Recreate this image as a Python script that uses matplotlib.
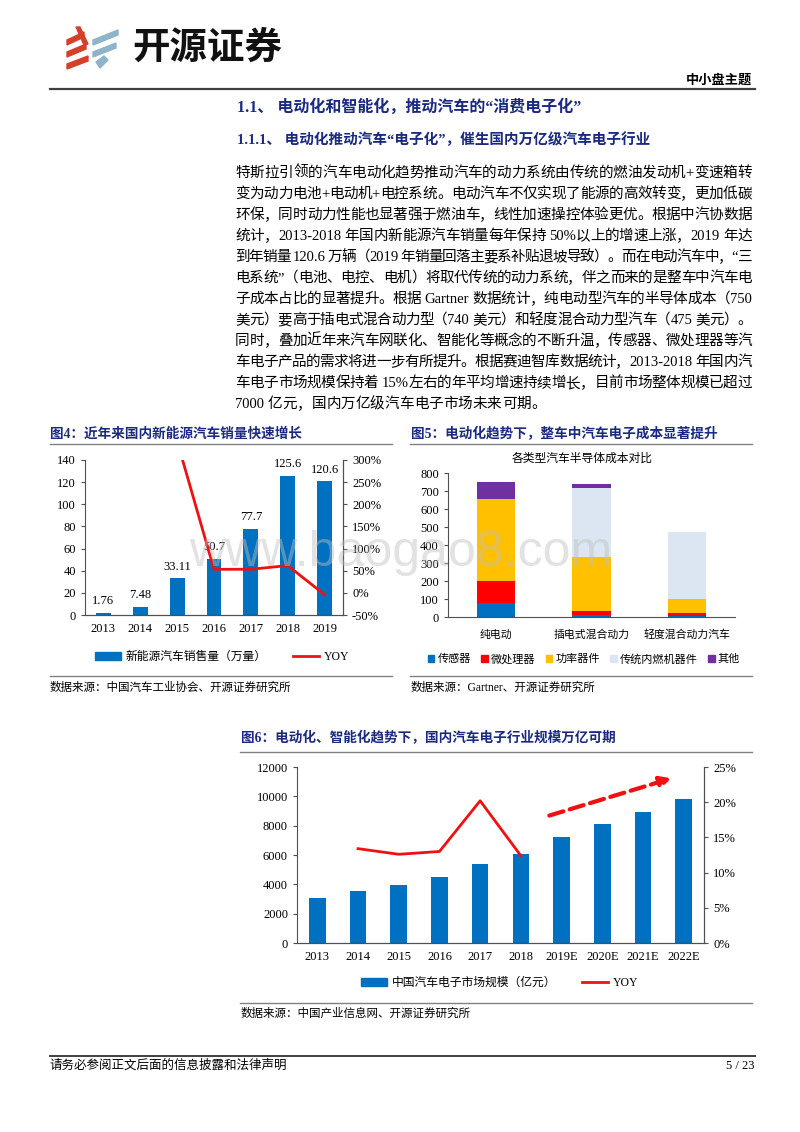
import re
import numpy as np
import matplotlib
matplotlib.use('Agg')
import matplotlib.pyplot as plt
from matplotlib.patches import Patch, Polygon
from matplotlib.lines import Line2D
from matplotlib.ticker import FuncFormatter

FAM = ['Liberation Serif', 'Noto Sans CJK SC']
NAVY = '#1B2A80'
BLUE = '#0070C0'
RED = '#EE1111'
SPINE = '#505050'

# ---- data ----
years4 = ['2013', '2014', '2015', '2016', '2017', '2018', '2019']
nev_sales = [1.76, 7.48, 33.11, 50.7, 77.7, 125.6, 120.6]
nev_yoy = [np.nan, np.nan, 342.6, 53.1, 53.3, 61.6, -4.0]

car_types = ['纯电动', '插电式混合动力', '轻度混合动力汽车']
parts = ['传感器', '微处理器', '功率器件', '传统内燃机器件', '其他']
part_colors = ['#0070C0', '#FF0000', '#FFC000', '#DCE6F2', '#7030A0']
part_costs = [
    [80, 12, 5],
    [120, 23, 20],
    [455, 300, 75],
    [0, 380, 375],
    [95, 25, 0],
]

years6 = ['2013', '2014', '2015', '2016', '2017', '2018', '2019E', '2020E', '2021E', '2022E']
market = [3090, 3520, 3980, 4500, 5390, 6070, 7200, 8090, 8910, 9800]
market_yoy = [np.nan, 13.4, 12.6, 13.0, 20.2, 12.4, np.nan, np.nan, np.nan, np.nan]
trend_start = (5.7, 18.1)
trend_end = (8.7, 23.4)

body = [
    '特斯拉引领的汽车电动化趋势推动汽车的动力系统由传统的燃油发动机+变速箱转',
    '变为动力电池+电动机+电控系统。电动汽车不仅实现了能源的高效转变，更加低碳',
    '环保，同时动力性能也显著强于燃油车，线性加速操控体验更优。根据中汽协数据',
    '统计，2013-2018 年国内新能源汽车销量每年保持 50%以上的增速上涨，2019 年达',
    '到年销量 120.6 万辆（2019 年销量回落主要系补贴退坡导致）。而在电动汽车中，“三',
    '电系统”（电池、电控、电机）将取代传统的动力系统，伴之而来的是整车中汽车电',
    '子成本占比的显著提升。根据 Gartner 数据统计，纯电动型汽车的半导体成本（750',
    '美元）要高于插电式混合动力型（740 美元）和轻度混合动力型汽车（475 美元）。',
    '同时，叠加近年来汽车网联化、智能化等概念的不断升温，传感器、微处理器等汽',
    '车电子产品的需求将进一步有所提升。根据赛迪智库数据统计，2013-2018 年国内汽',
    '车电子市场规模保持着 15%左右的年平均增速持续增长，目前市场整体规模已超过',
    '7000 亿元，国内万亿级汽车电子市场未来可期。',
]

W, H = 800, 1132
fig = plt.figure(figsize=(W / 100, H / 100), dpi=100)
renderer = fig.canvas.get_renderer()


def px(x, y):
    return x / W, 1 - y / H


def hline(x0, x1, y, lw=1.0, color='#808080'):
    fig.add_artist(Line2D([x0 / W, x1 / W], [1 - y / H, 1 - y / H], lw=lw, color=color))


def text(x, y, s, **kw):
    kw.setdefault('family', FAM)
    kw.setdefault('va', 'center')
    return fig.text(*px(x, y), s, **kw)


def justified(line, y, fs=10.5, x0=235, x1=752, last=False):
    toks = re.findall(r'[!-~]+| +|.', line)
    ws = []
    for tk in toks:
        if tk.strip() == '':
            ws.append(len(tk) * fs * 100 / 72 * 0.25)
            continue
        t = fig.text(0, 0, tk, fontsize=fs, family=FAM)
        ws.append(t.get_window_extent(renderer).width)
        t.remove()
    gap = 0 if last else (x1 - x0 - sum(ws)) / (len(toks) - 1)
    x = x0
    for tk, w in zip(toks, ws):
        if tk.strip():
            fig.text(*px(x, y + 5), tk, fontsize=fs, family=FAM, va='baseline')
        x += w + gap


# ---- header ----
red_logo = [
    [(67, 40), (84, 32), (84, 37), (67, 45)],
    [(67, 52), (86, 44), (86, 49), (67, 57)],
    [(67, 64), (88, 56), (88, 61), (67, 69)],
    [(76, 27), (80, 27), (88, 44), (84, 45)],
]
blue_logo = [
    [(93, 40), (118, 30), (118, 35), (93, 45)],
    [(93, 52), (116, 43), (116, 48), (93, 57)],
    [(96, 62), (104, 56), (108, 60), (100, 68)],
]
for pts in red_logo:
    fig.add_artist(Polygon([px(*p) for p in pts], closed=True, color='#D5402B', transform=fig.transFigure))
for pts in blue_logo:
    fig.add_artist(Polygon([px(*p) for p in pts], closed=True, color='#8DB4C8', transform=fig.transFigure))
text(132, 47, '开源证券', fontsize=27, fontweight='bold', family=['Noto Sans CJK SC'], color='#111111')
text(752, 81, '中小盘主题', fontsize=9.5, fontweight='bold', ha='right')
hline(50, 755, 89, lw=1.6, color='#404040')

text(237, 108, '1.1、 电动化和智能化，推动汽车的“消费电子化”', fontsize=11.5, fontweight='bold', color=NAVY)
text(237, 140, '1.1.1、 电动化推动汽车“电子化”，催生国内万亿级汽车电子行业', fontsize=10.5, fontweight='bold', color=NAVY)

for i, line in enumerate(body):
    justified(line, 172 + i * 21, last=(i == len(body) - 1))

# ---- captions ----
text(50, 434, '图4：近年来国内新能源汽车销量快速增长', fontsize=9.8, fontweight='bold', color=NAVY)
text(411, 434, '图5：电动化趋势下，整车中汽车电子成本显著提升', fontsize=9.8, fontweight='bold', color=NAVY)
hline(50, 392, 444)
hline(410, 752, 444)
hline(50, 392, 676)
hline(410, 752, 676)
text(50, 688, '数据来源：中国汽车工业协会、开源证券研究所', fontsize=8.3)
text(411, 688, '数据来源：Gartner、开源证券研究所', fontsize=8.3)


def style_axis(ax, right=False):
    ax.spines['top'].set_visible(False)
    ax.spines['right'].set_visible(right)
    for s in ax.spines.values():
        s.set_color(SPINE)
        s.set_linewidth(0.8)
    ax.tick_params(axis='y', direction='out', length=3, width=0.8, color=SPINE, labelsize=9)
    ax.tick_params(axis='x', length=0, labelsize=9, pad=6)
    for lab in ax.get_xticklabels() + ax.get_yticklabels():
        lab.set_family(FAM)


# ---- fig 4 ----
ax4 = fig.add_axes([85 / W, 1 - 615 / H, (343 - 85) / W, (615 - 460) / H])
x4 = np.arange(len(years4))
ax4.bar(x4, nev_sales, width=0.4, color=BLUE)
for xi, v in zip(x4, nev_sales):
    ax4.annotate(str(v), (xi, v), xytext=(0, 4), textcoords='offset points',
                 ha='center', va='bottom', fontsize=9, family=FAM)
ax4.set_xlim(-0.5, 6.5)
ax4.set_ylim(0, 140)
ax4.set_yticks(range(0, 141, 20))
ax4.set_xticks(x4, years4)
style_axis(ax4, right=True)
ax4r = ax4.twinx()
ax4r.plot(x4, nev_yoy, color=RED, lw=2)
ax4r.set_ylim(-50, 300)
ax4r.set_yticks(range(-50, 301, 50))
ax4r.yaxis.set_major_formatter(FuncFormatter(lambda v, p: f'{v:.0f}%'))
style_axis(ax4r, right=True)
ax4r.spines['left'].set_visible(False)

fig.legend([Patch(color=BLUE), Line2D([], [], color=RED, lw=2)],
           ['新能源汽车销售量（万量）', 'YOY'], loc='center',
           bbox_to_anchor=px(222, 657), ncol=2, frameon=False,
           prop={'family': FAM, 'size': 8.5}, handlelength=2.2, handleheight=0.6,
           columnspacing=2.2, handletextpad=0.4)

# ---- fig 5 ----
ax5 = fig.add_axes([448 / W, 1 - 617 / H, (735 - 448) / W, (617 - 473) / H])
x5 = np.arange(len(car_types))
bottom = np.zeros(len(car_types))
for name, col, vals in zip(parts, part_colors, part_costs):
    ax5.bar(x5, vals, width=0.4, bottom=bottom, color=col, label=name)
    bottom += np.array(vals)
ax5.set_xlim(-0.5, 2.5)
ax5.set_ylim(0, 800)
ax5.set_yticks(range(0, 801, 100))
ax5.set_xticks(x5, car_types)
style_axis(ax5)
for lab in ax5.get_xticklabels():
    lab.set_fontsize(7.8)
ax5.tick_params(axis='x', pad=9)
text(582, 459, '各类型汽车半导体成本对比', fontsize=8.5, ha='center')
fig.legend([Patch(color=c) for c in part_colors], parts, loc='center',
           bbox_to_anchor=px(584, 659), ncol=5, frameon=False,
           prop={'family': FAM, 'size': 8}, handlelength=0.6, handleheight=0.6,
           columnspacing=0.9, handletextpad=0.3)

# ---- watermark ----
text(401, 553, 'www.baogao8.com', fontsize=36, family=['Liberation Sans'],
     ha='center', color='#C0C0C0', alpha=0.45)

# ---- fig 6 ----
text(241, 738, '图6：电动化、智能化趋势下，国内汽车电子行业规模万亿可期', fontsize=9.8, fontweight='bold', color=NAVY)
hline(240, 752, 752)
hline(240, 752, 1003)
text(241, 1014, '数据来源：中国产业信息网、开源证券研究所', fontsize=8.3)

ax6 = fig.add_axes([297 / W, 1 - 943 / H, (704 - 297) / W, (943 - 767) / H])
x6 = np.arange(len(years6))
ax6.bar(x6, market, width=0.41, color=BLUE)
ax6.set_xlim(-0.5, 9.5)
ax6.set_ylim(0, 12000)
ax6.set_yticks(range(0, 12001, 2000))
ax6.set_xticks(x6, years6)
style_axis(ax6, right=True)
ax6r = ax6.twinx()
ax6r.plot(x6, market_yoy, color=RED, lw=2)
ax6r.annotate('', xy=trend_end, xytext=trend_start,
              arrowprops=dict(arrowstyle='-|>', color=RED, lw=3, linestyle=(0, (3.5, 1.6)),
                              mutation_scale=16, shrinkA=0, shrinkB=0))
ax6r.set_ylim(0, 25)
ax6r.set_yticks(range(0, 26, 5))
ax6r.yaxis.set_major_formatter(FuncFormatter(lambda v, p: f'{v:.0f}%'))
style_axis(ax6r, right=True)
ax6r.spines['left'].set_visible(False)

fig.legend([Patch(color=BLUE), Line2D([], [], color=RED, lw=2)],
           ['中国汽车电子市场规模（亿元）', 'YOY'], loc='center',
           bbox_to_anchor=px(500, 983), ncol=2, frameon=False,
           prop={'family': FAM, 'size': 8.5}, handlelength=2.2, handleheight=0.6,
           columnspacing=2.2, handletextpad=0.4)

# ---- footer ----
hline(50, 755, 1056, lw=1.4, color='#404040')
text(50, 1066, '请务必参阅正文后面的信息披露和法律声明', fontsize=9)
text(754, 1066, '5 / 23', fontsize=9, ha='right')

fig.savefig('out.png', dpi=100)
